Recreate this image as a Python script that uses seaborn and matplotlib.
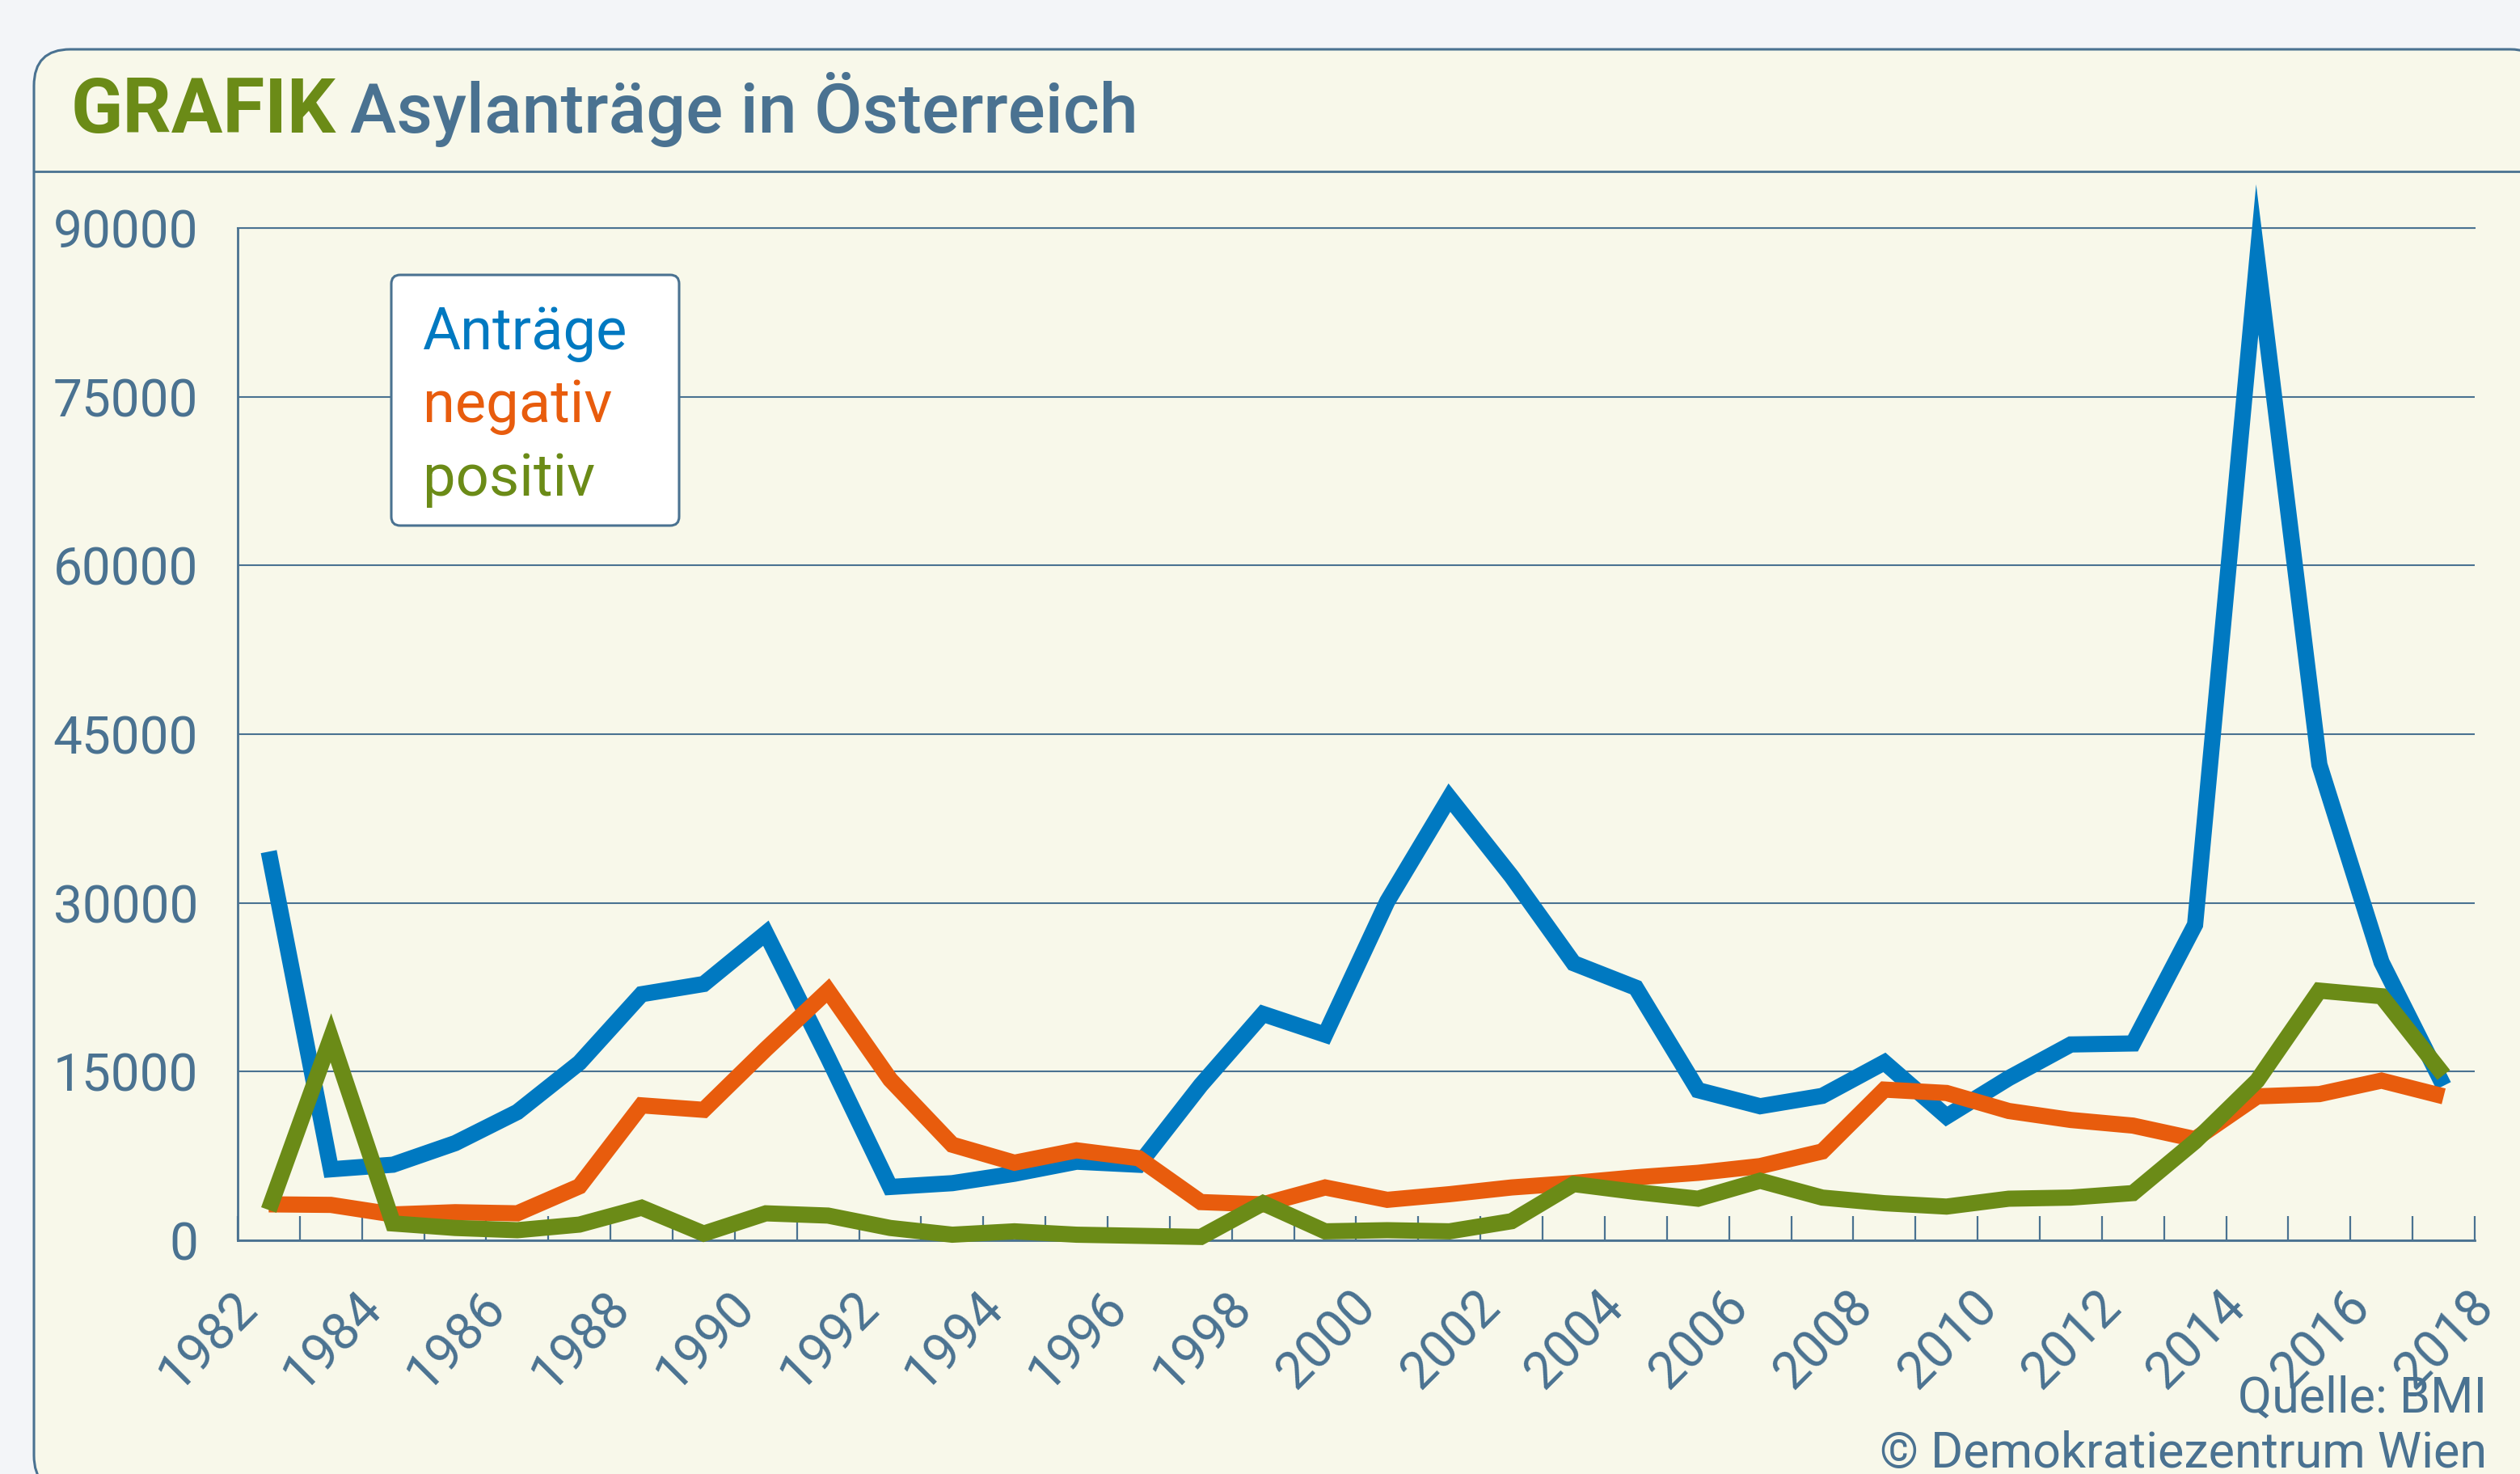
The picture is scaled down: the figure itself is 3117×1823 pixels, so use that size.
import numpy as np
import pandas as pd
import matplotlib
matplotlib.use("Agg")
import matplotlib.pyplot as plt
import seaborn as sns
from matplotlib.patches import FancyBboxPatch
from matplotlib.transforms import IdentityTransform, ScaledTranslation
from matplotlib.lines import Line2D

# ---------------- data ----------------
years = list(range(1982, 2018))
antraege = [34557, 6314, 6724, 8639, 11406, 15790, 21882, 22789, 27306, 16238,
            4744, 5082, 5920, 6991, 6719, 13805, 20129, 18284, 30127, 39354,
            32359, 24634, 22461, 13349, 11921, 12841, 15821, 11012, 14416, 17413,
            17503, 28064, 87200, 42285, 24735, 13746]
negativ = [3200, 3150, 2300, 2500, 2400, 4800, 12000, 11600, 17000, 22200,
           14300, 8500, 6900, 8000, 7300, 3400, 3200, 4700, 3600, 4100,
           4700, 5100, 5600, 6000, 6600, 7900, 13400, 13100, 11500, 10700,
           10200, 9000, 12800, 13000, 14200, 12800]
positiv = [2700, 18000, 1500, 1100, 900, 1400, 2900, 600, 2400, 2200,
           1100, 500, 800, 500, 400, 300, 3300, 800, 900, 800,
           1700, 5000, 4300, 3700, 5300, 3800, 3300, 3000, 3700, 3800,
           4200, 8800, 14200, 22200, 21700, 14700]
series_names = ["Anträge", "negativ", "positiv"]
x_tick_years = list(range(1982, 2019, 2))
y_ticks = [0, 15000, 30000, 45000, 60000, 75000, 90000]
title_tag = "GRAFIK"
title_text = "Asylanträge in Österreich"
source_lines = ["Quelle: BMI", "© Demokratiezentrum Wien"]

# ---------------- style ----------------
OUTER = "#f3f5f8"
PANEL = "#f8f8ea"
SLATE = "#4a7291"
BLUE = "#0079c1"
ORANGE = "#e85c0d"
GREEN = "#6b8b17"
colors = [BLUE, ORANGE, GREEN]

sns.set_style("white")
plt.rcParams["font.family"] = ["Roboto", "DejaVu Sans"]

W, H, DPI = 3117, 1823, 100
fig = plt.figure(figsize=(W / DPI, H / DPI), dpi=DPI, facecolor=OUTER)


def fx(px):
    return px / W


def fy(py):
    return 1 - py / H


# panel with rounded corners
panel = FancyBboxPatch((42, H - 1845), 3150 - 42, 1845 - 61,
                       boxstyle="round,pad=0,rounding_size=45",
                       transform=IdentityTransform(), facecolor=PANEL,
                       edgecolor=SLATE, linewidth=2.2, zorder=-5)
fig.add_artist(panel)
fig.add_artist(Line2D([fx(42), fx(3117)], [fy(212), fy(212)],
                      transform=fig.transFigure, color=SLATE, lw=2.0, zorder=-4))

# axes
ax = fig.add_axes([fx(294), fy(1534), fx(3061) - fx(294), fy(282) - fy(1534)])
ax.set_facecolor("none")

df = pd.DataFrame({"Jahr": years, "Anträge": antraege,
                   "negativ": negativ, "positiv": positiv})
df["pos"] = df["Jahr"] + 0.5

LW = 20 * 72 / DPI
for i, (name, col) in enumerate(zip(series_names, colors)):
    sns.lineplot(data=df, x="pos", y=name, ax=ax, color=col, linewidth=LW,
                 solid_joinstyle="miter", solid_capstyle="butt", zorder=3 + i,
                 clip_on=False)

ax.set_xlim(1982, 2018)
ax.set_ylim(0, 90000)
ax.set_xlabel("")
ax.set_ylabel("")

ax.set_xticks(x_tick_years)
ax.set_xticks(list(range(1983, 2018, 2)), minor=True)
ax.set_xticklabels([str(y) for y in x_tick_years], rotation=45, ha="right",
                   va="top", rotation_mode="anchor")
ax.tick_params(axis="x", which="both", direction="in", length=30 * 72 / DPI,
               width=1.6, color=SLATE, pad=51 * 72 / DPI, labelsize=46,
               labelcolor=SLATE, bottom=True)
ax.set_yticks(y_ticks)
ax.set_yticklabels([str(v) for v in y_ticks])
ax.tick_params(axis="y", length=0, pad=49 * 72 / DPI, labelsize=46,
               labelcolor=SLATE)

ax.yaxis.grid(True, color=SLATE, linewidth=1.5)
ax.xaxis.grid(False)
ax.set_axisbelow(True)
for s in ["left", "bottom"]:
    ax.spines[s].set_color(SLATE)
    ax.spines[s].set_linewidth(2.0)
ax.spines["top"].set_color(SLATE)
ax.spines["top"].set_linewidth(1.5)
ax.spines["right"].set_visible(False)

shift = ScaledTranslation(-8 / DPI, 0, fig.dpi_scale_trans)
for lab in ax.get_xticklabels():
    lab.set_transform(lab.get_transform() + shift)

# legend box
leg = FancyBboxPatch((484, H - 650), 356, 310,
                     boxstyle="round,pad=0,rounding_size=11",
                     transform=IdentityTransform(), facecolor="white",
                     edgecolor=SLATE, linewidth=2.2, zorder=10)
fig.add_artist(leg)
for name, col, base in zip(series_names, colors, [432, 522, 613]):
    fig.text(fx(523), fy(base), name, color=col, fontsize=52, va="baseline",
             ha="left", zorder=11)

# title
fig.text(fx(88), fy(164), title_tag, fontsize=68, fontweight="bold",
         color=GREEN, va="baseline", ha="left")
fig.text(fx(433), fy(164), title_text, fontsize=62, fontweight="medium",
         color=SLATE, va="baseline", ha="left")

# source
fig.text(fx(3076), fy(1747), source_lines[0], fontsize=44, color=SLATE,
         ha="right", va="baseline")
fig.text(fx(3076), fy(1815), source_lines[1], fontsize=44, color=SLATE,
         ha="right", va="baseline")

fig.savefig("out.png", dpi=DPI, facecolor=OUTER)
